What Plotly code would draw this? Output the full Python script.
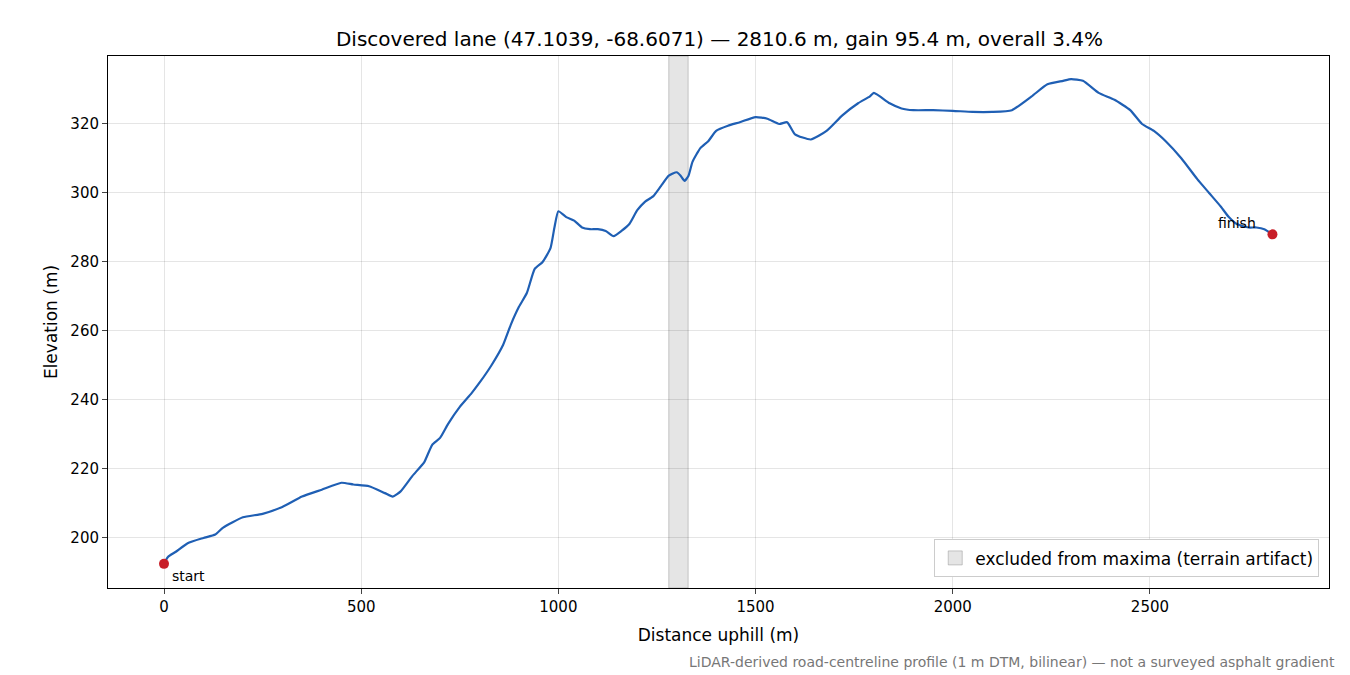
import plotly.graph_objects as go

dist = [0,10,30,60,100,130,150,200,250,300,350,400,450,480,520,560,580,600,630,660,680,700,720,750,780,800,830,860,880,900,920,940,960,980,990,1000,1020,1040,1060,1080,1100,1120,1140,1160,1180,1200,1220,1240,1260,1280,1300,1310,1320,1330,1340,1360,1380,1400,1430,1460,1500,1530,1560,1580,1600,1640,1680,1720,1760,1790,1800,1840,1870,1900,1950,2000,2050,2100,2150,2200,2240,2280,2300,2330,2370,2410,2450,2480,2510,2540,2580,2620,2650,2680,2700,2720,2750,2770,2790,2810.6]
elev = [192.5,194.5,196,198.5,200,201,203,206,207,209,212,214,216,215.5,215,213,212,213.5,218,222,227,229,233,238,242,245,250,256,262,267,271,278,280,284,290,294.7,293,292,290,289.5,289.5,289,287.5,289,291,295,297.5,299,302,305,306,305,303.5,305,309,313,315,318,319.5,320.5,322,321.5,320,320.5,317,315.5,318,322.5,326,328,329,326,324.5,324,324,323.8,323.5,323.5,324,328,331.5,332.5,333,332.5,329,327,324,320,318,315,310,304,300,296,293,291,290,290,289.5,288]
excl = [1280, 1329]
title = "Discovered lane (47.1039, -68.6071) — 2810.6 m, gain 95.4 m, overall 3.4%"

fig = go.Figure()
fig.add_vrect(x0=excl[0], x1=excl[1], fillcolor="rgba(150,150,150,0.25)", line_color="rgba(150,150,150,0.5)", line_width=1, layer="below")
fig.add_trace(go.Scatter(x=[None], y=[None], mode="markers", marker=dict(symbol="square", size=14, color="rgba(150,150,150,0.25)", line=dict(color="rgba(150,150,150,0.5)", width=1)), name="excluded from maxima (terrain artifact)"))
fig.add_trace(go.Scatter(x=dist, y=elev, mode="lines", line=dict(color="#1f5fb4", width=2.2, shape="spline", smoothing=0.5), showlegend=False))
fig.add_trace(go.Scatter(x=[dist[0], dist[-1]], y=[elev[0], elev[-1]], mode="markers", marker=dict(color="#c81e28", size=10), showlegend=False))
fig.add_annotation(x=dist[0], y=elev[0], text="start", showarrow=False, xanchor="left", yanchor="top", xshift=6, yshift=-2, font=dict(size=14))
fig.add_annotation(x=dist[-1], y=elev[-1], text="finish", showarrow=False, xanchor="right", yanchor="bottom", xshift=-14, yshift=1, font=dict(size=14))
fig.add_annotation(x=1, y=0, xref="paper", yref="paper", text="LiDAR-derived road-centreline profile (1 m DTM, bilinear) — not a surveyed asphalt gradient", showarrow=False, xanchor="right", yanchor="middle", xshift=8, yshift=-74, font=dict(size=14, color="#777"))
ax = dict(showline=True, mirror=True, linecolor="black", ticks="outside", gridcolor="rgba(0,0,0,0.1)", zeroline=False, tickfont=dict(size=15))
fig.update_layout(width=1350, height=675, template="plotly_white", font=dict(family="DejaVu Sans", color="black"),
    title=dict(text=title, x=0.527, y=0.965, font=dict(size=20)),
    margin=dict(l=100, r=29, t=48, b=95),
    xaxis=dict(ax, range=[-142, 2954], tickvals=[0,500,1000,1500,2000,2500], title=dict(text="Distance uphill (m)", font=dict(size=17), standoff=14)),
    yaxis=dict(ax, range=[185.5, 339.7], tickvals=[200,220,240,260,280,300,320], title=dict(text="Elevation (m)", font=dict(size=17), standoff=8)),
    legend=dict(x=0.992, y=0.02, xanchor="right", yanchor="bottom", bordercolor="#ccc", borderwidth=1, font=dict(size=17), bgcolor="white"))
fig.write_html("out.html")
